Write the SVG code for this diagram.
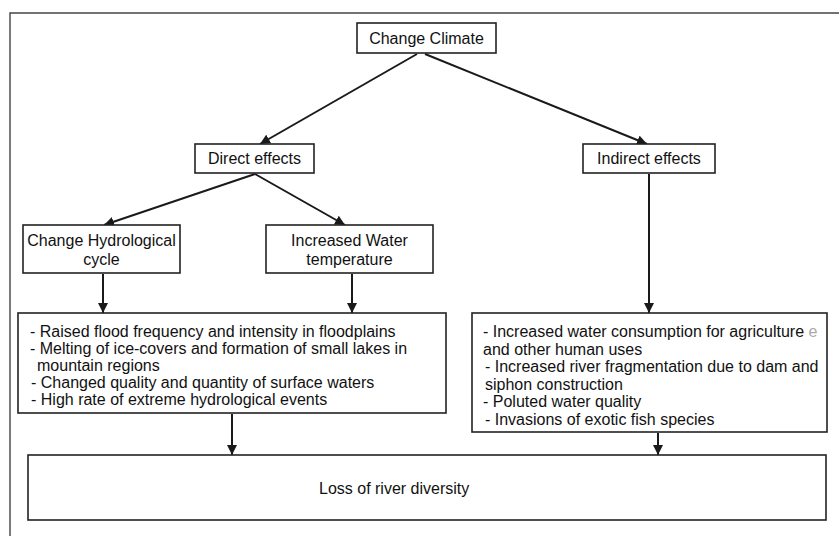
<svg xmlns="http://www.w3.org/2000/svg" width="839" height="536" viewBox="0 0 839 536">
<style>
.box{fill:#fff;stroke:#222;stroke-width:1.6}
.t{font-family:"Liberation Sans",Arial,sans-serif;font-size:16px;fill:#111}
.c{text-anchor:middle}
.ln{stroke:#1a1a1a;stroke-width:2;fill:none;marker-end:url(#ah)}
</style>
<defs>
<marker id="ah" viewBox="0 0 10 10" refX="10" refY="5" markerWidth="5" markerHeight="5" markerUnits="strokeWidth" orient="auto">
<path d="M0,0 L10,5 L0,10 Z" fill="#1a1a1a"/>
</marker>
</defs>
<rect width="839" height="536" fill="#fff"/>
<path d="M10,536 V13 H839" fill="none" stroke="#444" stroke-width="1.4"/>
<g id="connectors">
<line class="ln" x1="417" y1="54" x2="260" y2="144"/>
<line class="ln" x1="425" y1="54" x2="647" y2="144"/>
<line class="ln" x1="255" y1="174" x2="104" y2="225"/>
<line class="ln" x1="255" y1="174" x2="345" y2="225"/>
<line class="ln" x1="103" y1="274" x2="103" y2="313"/>
<line class="ln" x1="352" y1="274" x2="352" y2="313"/>
<line class="ln" x1="649" y1="174" x2="649" y2="313"/>
<line class="ln" x1="232" y1="414" x2="232" y2="455"/>
<line class="ln" x1="658" y1="433" x2="658" y2="455"/>
</g>
<g id="change-climate">
<rect class="box" x="357" y="23" width="139" height="30"/>
<text class="t c" x="426.5" y="44">Change Climate</text>
</g>
<g id="direct-effects">
<rect class="box" x="195" y="144" width="119" height="29"/>
<text class="t c" x="254.5" y="164">Direct effects</text>
</g>
<g id="indirect-effects">
<rect class="box" x="583" y="144" width="132" height="29"/>
<text class="t c" x="649" y="164">Indirect effects</text>
</g>
<g id="change-hydrological">
<rect class="box" x="23" y="225" width="157" height="48"/>
<text class="t c" x="101.5" y="246">Change Hydrological</text>
<text class="t c" x="101.5" y="265">cycle</text>
</g>
<g id="increased-water-temp">
<rect class="box" x="266" y="225" width="167" height="48"/>
<text class="t c" x="349.5" y="246">Increased Water</text>
<text class="t c" x="349.5" y="265">temperature</text>
</g>
<g id="direct-list">
<rect class="box" x="18" y="313" width="428" height="100"/>
<text class="t" x="30" y="337">- Raised flood frequency and intensity in floodplains</text>
<text class="t" x="30" y="354">- Melting of ice-covers and formation of small lakes in</text>
<text class="t" x="37" y="371">mountain regions</text>
<text class="t" x="31" y="388">- Changed quality and quantity of surface waters</text>
<text class="t" x="31" y="405">- High rate of extreme hydrological events</text>
</g>
<g id="indirect-list">
<rect class="box" x="472" y="313" width="355" height="119"/>
<text class="t" x="483" y="337">- Increased water consumption for agriculture <tspan fill="#aaa">e</tspan></text>
<text class="t" x="483" y="354.5">and other human uses</text>
<text class="t" x="485" y="372">- Increased river fragmentation due to dam and</text>
<text class="t" x="485" y="389.5">siphon construction</text>
<text class="t" x="483" y="407">- Poluted water quality</text>
<text class="t" x="485" y="424.5">- Invasions of exotic fish species</text>
</g>
<g id="loss">
<rect class="box" x="28" y="455" width="798" height="65"/>
<text class="t" x="319" y="494">Loss of river diversity</text>
</g>
</svg>
